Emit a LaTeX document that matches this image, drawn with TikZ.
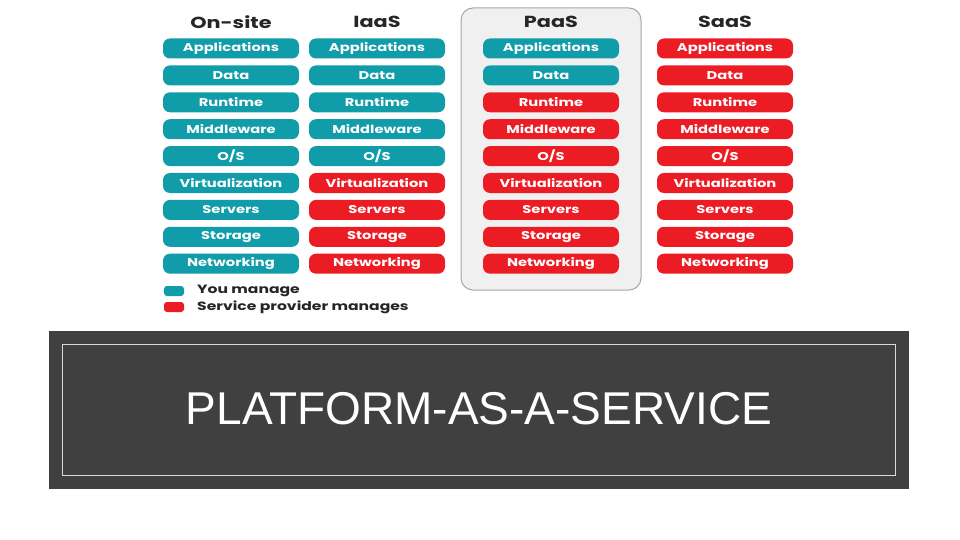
\documentclass[tikz,border=0pt]{standalone}
\usepackage{fontspec}
\setmainfont{Poppins}[FakeStretch=1.3]
\newfontfamily\titlefont{Liberation Sans}
\definecolor{tealc}{HTML}{109CA9}
\definecolor{redc}{HTML}{EC1C24}
\definecolor{band}{HTML}{404040}
\tikzset{
 cell/.style={rounded corners=7pt,minimum width=136pt,minimum height=20pt,inner sep=0pt,text=white,font=\fontsize{11.3}{12}\selectfont\bfseries},
 tc/.style={cell,fill=tealc}, rc/.style={cell,fill=redc},
 hdr/.style={font=\fontsize{16}{18}\selectfont\bfseries,text=black!85},
 leg/.style={rounded corners=3pt,minimum width=20pt,minimum height=10pt,inner sep=0pt},
 legt/.style={anchor=west,font=\fontsize{12}{14}\selectfont\bfseries,text=black!85,inner sep=0pt}
}
\begin{document}
\begin{tikzpicture}[x=1pt,y=-1pt]
\useasboundingbox (0,0) rectangle (960,540);
\fill[white] (0,0) rectangle (960,540);
\node[draw=black!35,fill=black!6,rounded corners=12pt,line width=1pt,minimum width=180pt,minimum height=282pt,inner sep=0pt] (panel) at (551,149) {};
\foreach \lab/\x in {On-site/231,IaaS/377,PaaS/551,SaaS/725}
  \node[hdr] (h\x) at (\x,22) {\lab};
\foreach \lab [count=\i] in {Applications,Data,Runtime,Middleware,O/S,Virtualization,Servers,Storage,Networking}{
  \pgfmathsetmacro\yy{48.5+(\i-1)*26.9}
  \node[tc] (a\i) at (231,\yy) {\lab};
  \ifnum\i<6 \node[tc] (b\i) at (377,\yy) {\lab}; \else \node[rc] (b\i) at (377,\yy) {\lab}; \fi
  \ifnum\i<3 \node[tc] (c\i) at (551,\yy) {\lab}; \else \node[rc] (c\i) at (551,\yy) {\lab}; \fi
  \node[rc] (d\i) at (725,\yy) {\lab};
}
\node[leg,fill=tealc] (l1) at (174,291) {};
\node[leg,fill=redc] (l2) at (174,307) {};
\node[legt] (t1) at (197,291) {You manage};
\node[legt] (t2) at (197,307) {Service provider manages};
\fill[band] (49,331) rectangle (909,489);
\draw[white!85!black,line width=0.8pt] (62,344) rectangle (895,475);
\node[text=white,font=\titlefont\fontsize{46}{52}\selectfont] (title) at (479,409) {PLATFORM-AS-A-SERVICE};
\end{tikzpicture}
\end{document}
